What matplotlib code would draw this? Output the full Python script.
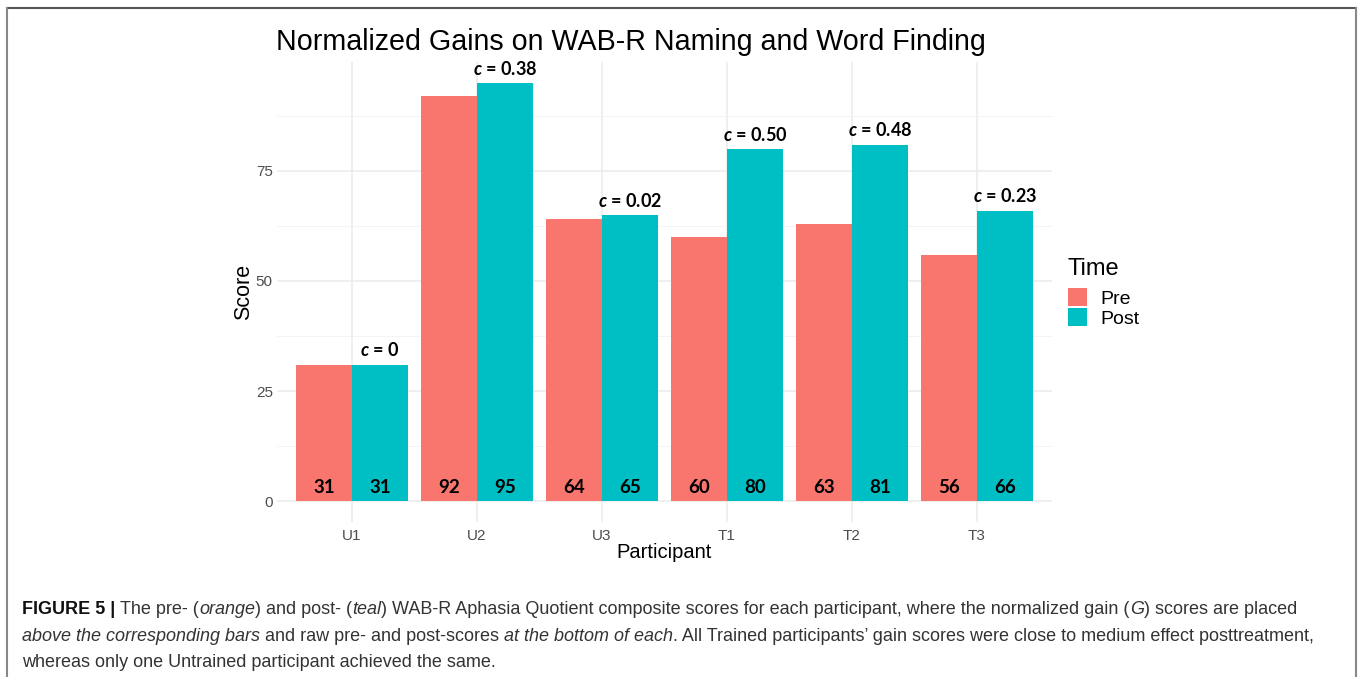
import numpy as np
import matplotlib
matplotlib.use('Agg')
import matplotlib.pyplot as plt
from matplotlib.patches import Patch
from matplotlib.text import Annotation
from matplotlib.lines import Line2D

# ----------------------------------------------------------------------------- data
participants = ['U1', 'U2', 'U3', 'T1', 'T2', 'T3']
pre_scores = [31, 92, 64, 60, 63, 56]
post_scores = [31, 95, 65, 80, 81, 66]
gain_labels = ['0', '0.38', '0.02', '0.50', '0.48', '0.23']
y_ticks = [0, 25, 50, 75]

PRE_COL = '#F8766D'
POST_COL = '#00BFC4'
W, H = 1358, 677

plt.rcParams.update({
    'font.family': ['Liberation Sans', 'DejaVu Sans'],
    'mathtext.fontset': 'custom',
    'mathtext.bfit': 'Lato:bold:italic',
    'mathtext.it': 'Lato:italic',
    'mathtext.bf': 'Lato:bold',
    'mathtext.rm': 'Lato',
})

fig = plt.figure(figsize=(W / 100, H / 100), dpi=100)


def px(x0, y0, x1, y1):
    # pixel box (top-left origin) -> figure fraction rect
    return [x0 / W, 1 - y1 / H, (x1 - x0) / W, (y1 - y0) / H]


ax = fig.add_axes(px(277, 62, 1052, 522))
x = np.arange(len(participants))
bw = 0.45

ax.bar(x - bw / 2, pre_scores, width=bw, color=PRE_COL, zorder=3)
ax.bar(x + bw / 2, post_scores, width=bw, color=POST_COL, zorder=3)

for xi, p, q, g in zip(x, pre_scores, post_scores, gain_labels):
    for xx, v in ((xi - bw / 2, p), (xi + bw / 2, q)):
        ax.text(xx, 3, str(v), ha='center', va='center', fontsize=13.5,
                fontweight='bold', family='Lato', zorder=4)
    ax.text(xi + bw / 2, max(p, q) + 1.2, r'$\mathbfit{c}$ = ' + g, ha='center',
            va='bottom', fontsize=13, fontweight='bold', family='Lato', zorder=4)

ax.set_xlim(-0.6, len(participants) - 0.4)
ax.set_ylim(-4.75, 99.75)
ax.set_xticks(x)
ax.set_xticklabels(participants)
ax.set_yticks(y_ticks)
ax.set_yticks([12.5, 37.5, 62.5, 87.5], minor=True)
ax.tick_params(axis='both', which='both', length=0, labelsize=11, labelcolor='#4D4D4D')
ax.tick_params(axis='x', pad=5)
ax.tick_params(axis='y', pad=3)
ax.grid(True, which='major', color='#EBEBEB', linewidth=1.1, zorder=0)
ax.grid(True, which='minor', axis='y', color='#F3F3F3', linewidth=0.6, zorder=0)
for s in ax.spines.values():
    s.set_visible(False)
ax.set_xlabel('Participant', fontsize=14.5, labelpad=0)
ax.set_ylabel('Score', fontsize=15.5, labelpad=1)

fig.text(631 / W, 1 - 42 / H, 'Normalized Gains on WAB-R Naming and Word Finding',
         ha='center', va='center', fontsize=20.6)

handles = [Patch(facecolor=PRE_COL, label='Pre'), Patch(facecolor=POST_COL, label='Post')]
leg = fig.legend(handles=handles, title='Time', loc='upper left',
                 bbox_to_anchor=(1064 / W, 1 - 254 / H), frameon=False,
                 fontsize=14, title_fontsize=17, handlelength=1.0, handleheight=1.05,
                 handletextpad=0.65, labelspacing=0.0, borderaxespad=0,
                 borderpad=0.2)
leg._legend_box.align = 'left'
leg._legend_box.sep = 6

# figure border
fig.add_artist(Line2D([7 / W, 1356 / W], [1 - 8 / H, 1 - 8 / H], color='#555555', lw=1.5))
fig.add_artist(Line2D([7 / W, 7 / W], [0, 1 - 8 / H], color='#888888', lw=1.5))
fig.add_artist(Line2D([1356 / W, 1356 / W], [0, 1 - 8 / H], color='#888888', lw=1.5))

# caption with mixed styles
caption = [
    (614, [('FIGURE 5 | ', 'bold', 'normal'), ('The pre- (', 'normal', 'normal'),
           ('orange', 'normal', 'italic'), (') and post- (', 'normal', 'normal'),
           ('teal', 'normal', 'italic'),
           (') WAB-R Aphasia Quotient composite scores for each participant, '
            'where the normalized gain (', 'normal', 'normal'),
           ('G', 'normal', 'italic'), (') scores are placed', 'normal', 'normal')]),
    (641, [('above the corresponding bars', 'normal', 'italic'),
           (' and raw pre- and post-scores ', 'normal', 'normal'),
           ('at the bottom of each', 'normal', 'italic'),
           ('. All Trained participants\u2019 gain scores were close to medium effect '
            'posttreatment,', 'normal', 'normal')]),
    (667, [('whereas only one Untrained participant achieved the same.', 'normal', 'normal')]),
]
cap_font = ['Liberation Sans', 'DejaVu Sans']
for yb, pieces in caption:
    prev = None
    for txt, wt, st in pieces:
        col = '#111111' if wt == 'bold' else '#333333'
        if prev is None:
            prev = fig.text(22 / W, 1 - yb / H, txt, ha='left', va='baseline',
                            fontsize=13, fontweight=wt, fontstyle=st, color=col,
                            family=cap_font)
        else:
            a = Annotation(txt, xy=(1, 1 - yb / H), xycoords=(prev, 'figure fraction'),
                           ha='left', va='baseline', fontsize=13, fontweight=wt,
                           fontstyle=st, color=col, family=cap_font)
            fig.add_artist(a)
            prev = a

fig.savefig('out.png', dpi=100)
